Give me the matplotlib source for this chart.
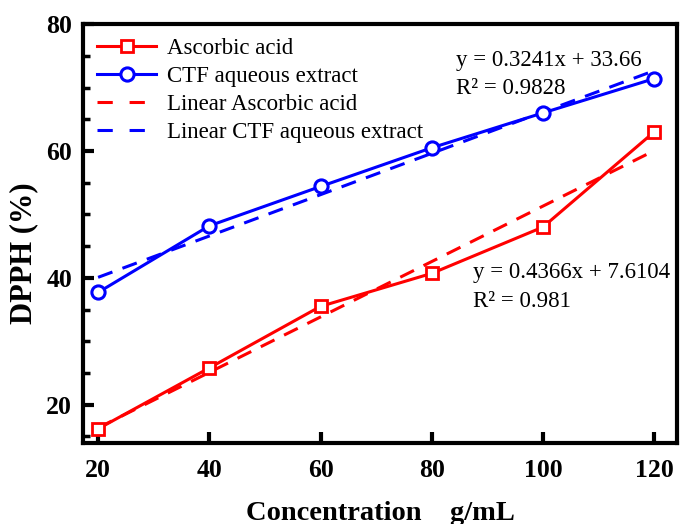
import matplotlib
matplotlib.use('Agg')
import matplotlib.pyplot as plt
import numpy as np
from matplotlib.ticker import MultipleLocator

plt.rcParams['font.family'] = ['Liberation Serif', 'DejaVu Serif']

# concentration (g/mL) and DPPH scavenging (%)
conc = [20, 40, 60, 80, 100, 120]
ascorbic = [16.2, 25.8, 35.5, 40.7, 48.0, 63.0]
ctf = [37.7, 48.2, 54.4, 60.5, 66.0, 71.4]

x_ticks = [20, 40, 60, 80, 100, 120]
y_ticks = [20, 40, 60, 80]

fig = plt.figure(figsize=(6.81, 5.24), dpi=100)
ax = fig.add_axes([0.122, 0.155, 0.872, 0.799])

# linear fits
xs = np.array(conc, dtype=float)
k1, b1 = np.polyfit(xs, ascorbic, 1)
k2, b2 = np.polyfit(xs, ctf, 1)

lw = 2.2
ax.plot(xs, k1 * xs + b1, color='red', lw=lw, dashes=(5, 3.5), zorder=2)
ax.plot(xs, k2 * xs + b2, color='blue', lw=lw, dashes=(5, 3.5), zorder=2)
ax.plot(conc, ascorbic, color='red', lw=lw, marker='s', ms=9,
        mfc='white', mew=2, zorder=3)
ax.plot(conc, ctf, color='blue', lw=lw, marker='o', ms=9.5,
        mfc='white', mew=2.2, zorder=3)

# legend (built by hand so the handles look like the original)
h1, = ax.plot([], [], color='red', lw=lw, marker='s', ms=9, mfc='white', mew=2)
h2, = ax.plot([], [], color='blue', lw=lw, marker='o', ms=9.5, mfc='white', mew=2.2)
h3, = ax.plot([], [], color='red', lw=lw, dashes=(5, 5.5))
h4, = ax.plot([], [], color='blue', lw=lw, dashes=(5, 5.5))
ax.legend([h1, h2, h3, h4],
          ['Ascorbic acid', 'CTF aqueous extract',
           'Linear Ascorbic acid', 'Linear CTF aqueous extract'],
          loc='upper left', frameon=False, fontsize=16.5,
          handlelength=2.6, handletextpad=0.45, labelspacing=0.3,
          borderaxespad=0.2, bbox_to_anchor=(0.0, 1.0))

ax.text(84.4, 74.3, 'y = 0.3241x + 33.66', fontsize=16.5, ha='left', va='center')
ax.text(84.4, 69.9, 'R\u00b2 = 0.9828', fontsize=16.5, ha='left', va='center')
ax.text(87.4, 40.9, 'y = 0.4366x + 7.6104', fontsize=16.5, ha='left', va='center')
ax.text(87.4, 36.2, 'R\u00b2 = 0.981', fontsize=16.5, ha='left', va='center')

ax.set_xlim(17.3, 124.1)
ax.set_ylim(14, 80)
ax.set_xticks(x_ticks)
ax.set_yticks(y_ticks)
ax.yaxis.set_minor_locator(MultipleLocator(5))

for s in ax.spines.values():
    s.set_linewidth(3)
ax.tick_params(which='major', direction='in', length=8, width=3,
               labelsize=18.5, pad=8)
ax.tick_params(which='minor', direction='in', length=5, width=2.5)
ax.tick_params(axis='x', which='major', pad=12)
for lab in ax.get_xticklabels() + ax.get_yticklabels():
    lab.set_fontweight('bold')

ax.set_xlabel('Concentration    g/mL', fontsize=20.5, fontweight='bold', labelpad=13)
ax.set_ylabel('DPPH (%)', fontsize=22, fontweight='bold')
ax.yaxis.set_label_coords(-0.075, 0.453)

fig.savefig('out.png', dpi=100)
